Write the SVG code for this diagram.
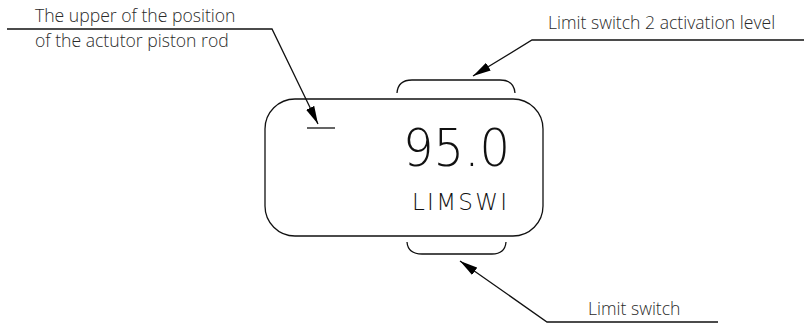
<svg xmlns="http://www.w3.org/2000/svg" width="804" height="323" viewBox="0 0 804 323">
<defs>
<style>
.lbl{font-family:"Open Sans","Noto Sans",sans-serif;font-size:17.6px;font-weight:300;fill:#2a2a2a}
.ln{fill:none;stroke:#111;stroke-width:1.3}
.disp{font-family:"DejaVu Sans","Liberation Sans",sans-serif;font-weight:200;fill:#111}
</style>
<marker id="ah" viewBox="0 0 18 9" refX="18" refY="4.5" markerWidth="18" markerHeight="9" markerUnits="userSpaceOnUse" orient="auto">
<path d="M0,0 L18,4.5 L0,9 Z" fill="#000"/>
</marker>
</defs>
<rect width="804" height="323" fill="#fff"/>
<g id="display">
<rect class="ln" x="265" y="99" width="278" height="137" rx="30" ry="30"/>
<line class="ln" x1="307" y1="128" x2="335" y2="128"/>
<text class="disp" x="510" y="166" font-size="52" text-anchor="end" textLength="107" lengthAdjust="spacingAndGlyphs">95.0</text>
<text class="disp" x="412" y="210" font-size="23" textLength="95" lengthAdjust="spacing">LIMSWI</text>
</g>
<g id="bracket-top">
<path class="ln" d="M397,93 Q398,80 412,80 L500,80 Q514,80 515,93"/>
</g>
<g id="bracket-bottom">
<path class="ln" d="M407,242 Q408,254 422,254 L492,254 Q505,254 506,242"/>
</g>
<g id="label-piston">
<text class="lbl" x="35" y="22">The upper of the position</text>
<text class="lbl" x="35" y="47">of the actutor piston rod</text>
</g>
<g id="label-ls2">
<text class="lbl" x="548" y="29">Limit switch 2 activation level</text>
</g>
<g id="label-ls">
<text class="lbl" x="588" y="315">Limit switch</text>
</g>
<g id="connectors">
<polyline class="ln" points="7,29 272,29 318,124" marker-end="url(#ah)"/>
<polyline class="ln" points="804,40 532,40 473,76" marker-end="url(#ah)"/>
<polyline class="ln" points="718,322 547,322 460,261" marker-end="url(#ah)"/>
</g>
</svg>
